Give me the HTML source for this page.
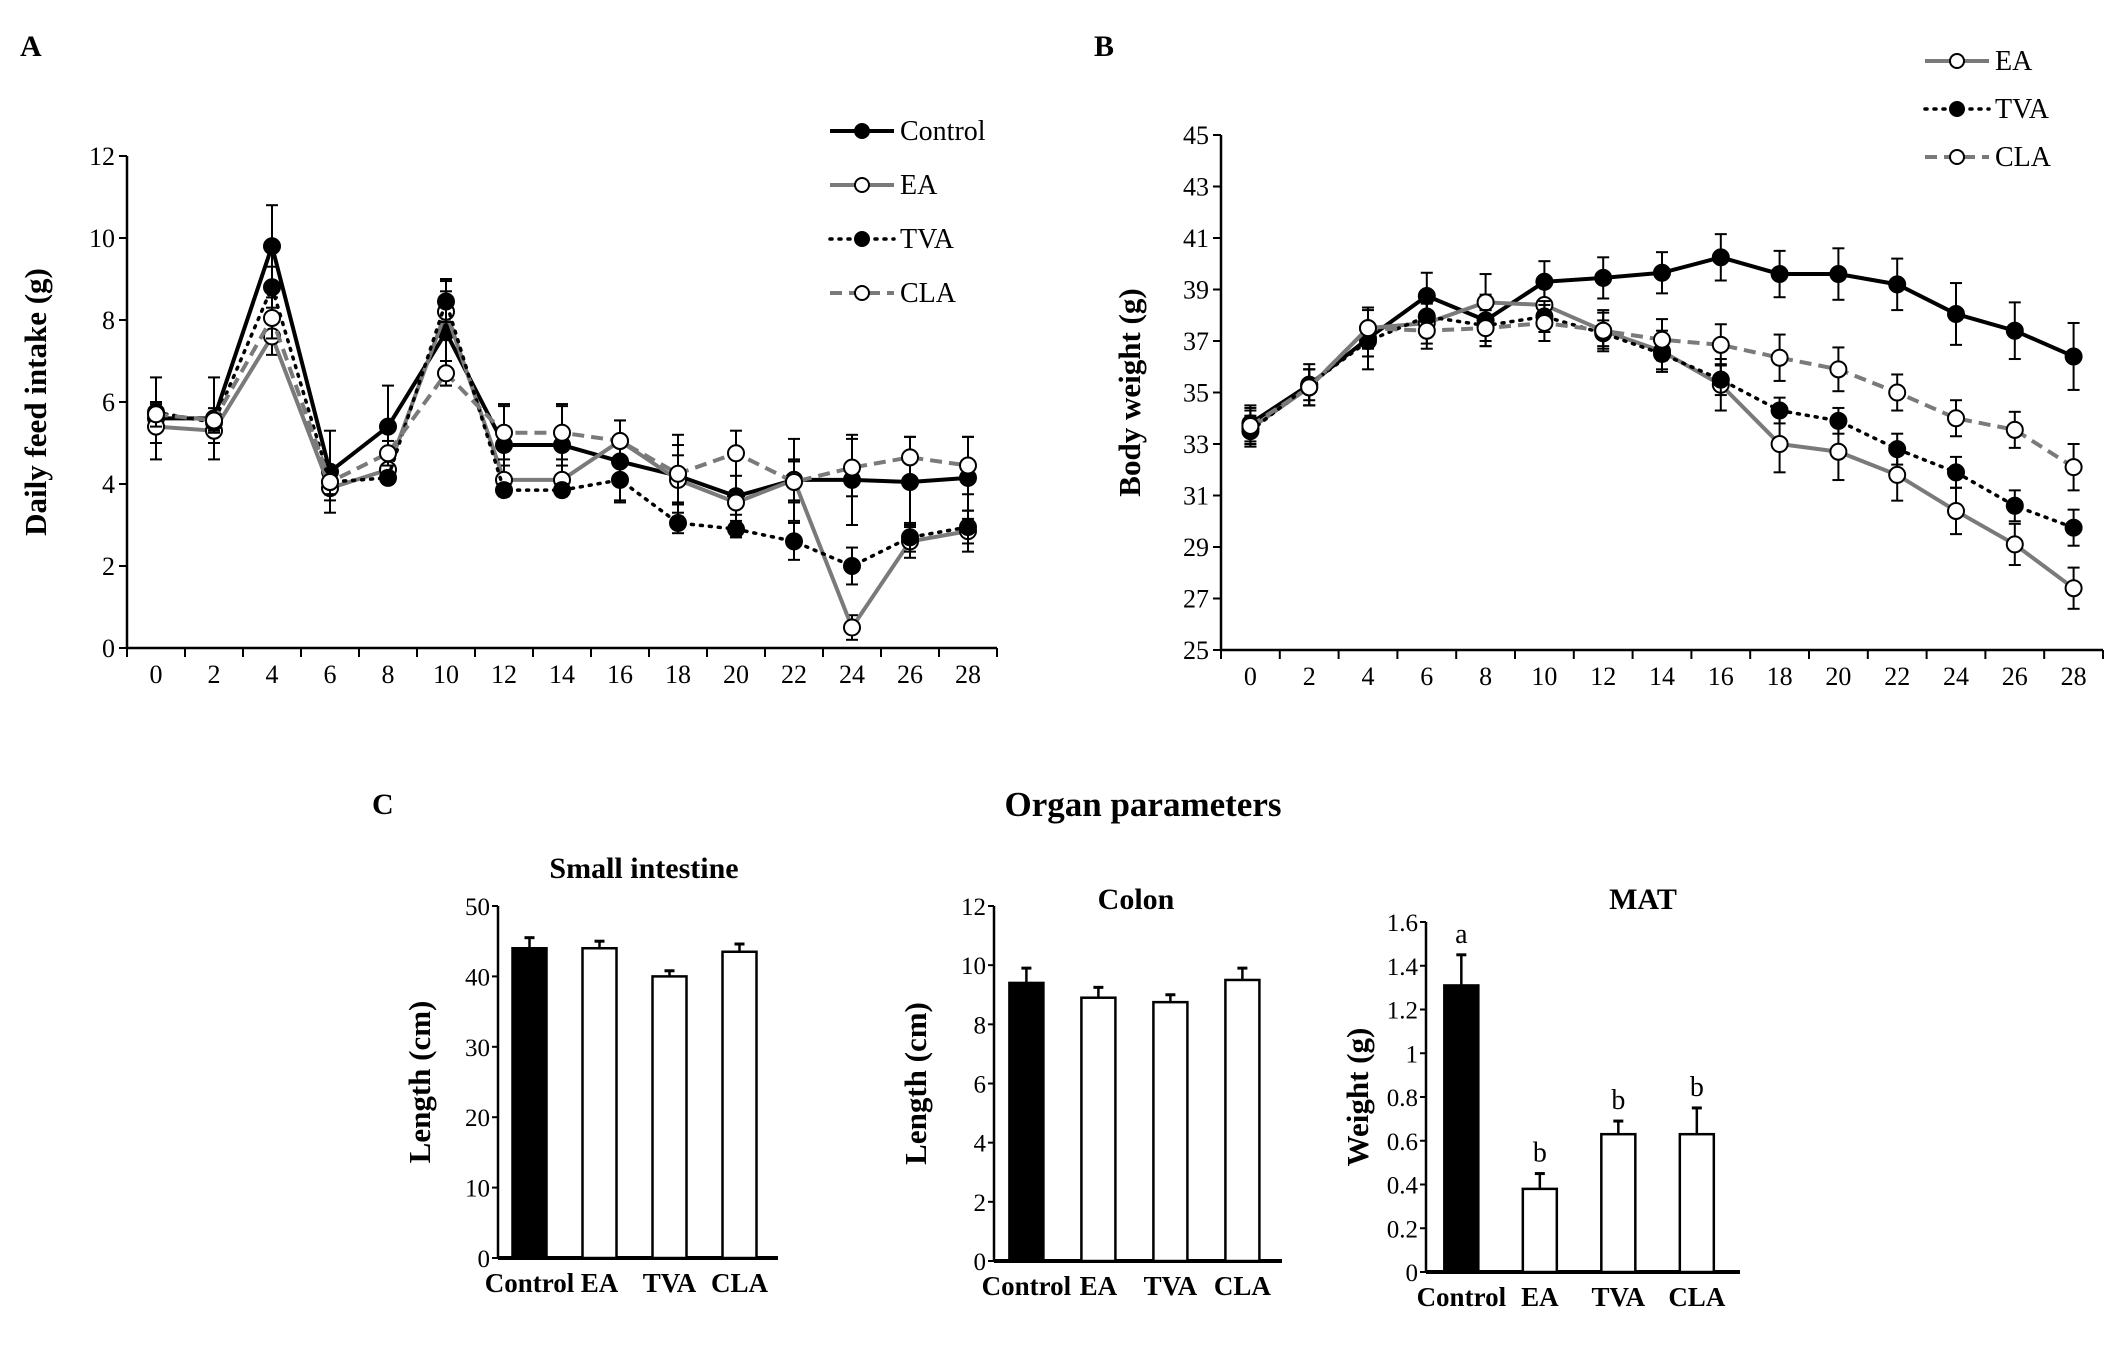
<!DOCTYPE html>
<html><head><meta charset="utf-8"><style>
body{margin:0;background:#fff}
svg{display:block;font-family:"Liberation Serif",serif}
</style></head><body>
<svg id="s" width="2126" height="1347" viewBox="0 0 2126 1347">
<text x="20" y="56" font-size="30" font-weight="bold">A</text>
<text x="1094" y="56" font-size="30" font-weight="bold">B</text>
<text x="372" y="814" font-size="30" font-weight="bold">C</text>
<text x="1143" y="816" font-size="35" font-weight="bold" text-anchor="middle">Organ parameters</text>
</svg>
<script>
const days=[0,2,4,6,8,10,12,14,16,18,20,22,24,26,28];
const feedControl=[5.6,5.6,9.8,4.3,5.4,7.7,4.95,4.95,4.55,4.2,3.7,4.1,4.1,4.05,4.15];
const feedEA=[5.4,5.3,7.6,3.9,4.35,8.2,4.1,4.1,5.05,4.1,3.55,4.1,0.5,2.6,2.85];
const feedTVA=[5.75,5.5,8.8,4.05,4.15,8.45,3.85,3.85,4.1,3.05,2.9,2.6,2.0,2.7,2.95];
const feedCLA=[5.7,5.55,8.05,4.05,4.75,6.7,5.25,5.25,5.05,4.25,4.75,4.05,4.4,4.65,4.45];
const feedErrControl=[1.0,1.0,1.0,1.0,1.0,1.3,1.0,1.0,1.0,1.0,1.0,1.0,1.1,1.1,1.0];
const feedErrEA=[0.4,0.3,0.45,0.3,0.3,0.5,0.35,0.35,0.5,0.6,0.3,0.5,0.3,0.4,0.5];
const feedErrTVA=[0.2,0.2,0.5,0.3,0.15,0.5,0.15,0.15,0.5,0.25,0.2,0.45,0.45,0.35,0.4];
const feedErrCLA=[0.3,0.3,0.5,0.3,0.3,0.3,0.65,0.65,0.5,0.7,0.55,0.5,0.7,0.5,0.7];
const feedTicks=[0,2,4,6,8,10,12];
const bwControl=[33.8,35.3,37.1,38.75,37.8,39.3,39.45,39.65,40.25,39.6,39.6,39.2,38.05,37.4,36.4];
const bwEA=[33.6,35.2,37.5,37.7,38.5,38.4,37.4,36.6,35.3,33.0,32.7,31.8,30.4,29.1,27.4];
const bwTVA=[33.5,35.3,37.0,37.95,37.6,37.95,37.3,36.5,35.5,34.3,33.9,32.8,31.9,30.6,29.75];
const bwCLA=[33.7,35.2,37.5,37.4,37.5,37.7,37.4,37.05,36.85,36.35,35.9,35.0,34.0,33.55,32.1];
const bwErrControl=[0.7,0.8,1.2,0.9,1.0,0.8,0.8,0.8,0.9,0.9,1.0,1.0,1.2,1.1,1.3];
const bwErrEA=[0.7,0.7,0.8,0.8,1.1,0.8,0.8,0.8,1.0,1.1,1.1,1.0,0.9,0.8,0.8];
const bwErrTVA=[0.6,0.6,0.6,0.5,0.6,0.6,0.5,0.6,0.6,0.5,0.5,0.6,0.6,0.6,0.7];
const bwErrCLA=[0.7,0.7,0.7,0.7,0.7,0.7,0.7,0.8,0.8,0.9,0.85,0.7,0.7,0.7,0.9];
const bwTicks=[25,27,29,31,33,35,37,39,41,43,45];
const groups=["Control","EA","TVA","CLA"];
const siVals=[44,44,40,43.5], siErr=[1.5,1.0,0.8,1.1], siTicks=[0,10,20,30,40,50];
const colonVals=[9.4,8.9,8.75,9.5], colonErr=[0.5,0.35,0.25,0.4], colonTicks=[0,2,4,6,8,10,12];
const matVals=[1.31,0.38,0.63,0.63], matErr=[0.14,0.07,0.06,0.12], matTicks=[0,0.2,0.4,0.6,0.8,1,1.2,1.4,1.6], matLetters=["a","b","b","b"];

const S=document.getElementById('s'),NS='http://www.w3.org/2000/svg';
function mk(tag,at,parent,txt){const e=document.createElementNS(NS,tag);for(const k in at)e.setAttribute(k,at[k]);if(txt!==undefined)e.textContent=txt;(parent||S).appendChild(e);return e;}
function grp(name){const g=mk('g',{});


return g;}

const styles={
 Control:{stroke:'#000',dash:'',fill:'#000',w:4},
 EA:{stroke:'#7a7a7a',dash:'',fill:'#fff',w:4},
 TVA:{stroke:'#000',dash:'2 7',fill:'#000',w:3.5,cap:'round'},
 CLA:{stroke:'#7a7a7a',dash:'12 7',fill:'#fff',w:4}
};

function lineChart(o){
 const g=grp(o.name);
 const yS=v=>o.y0+(v-o.vmin)*(o.y1-o.y0)/(o.vmax-o.vmin);
 const cw=(o.axEnd-o.ax)/days.length;
 const xS=i=>o.ax+cw*(i+0.5);
 mk('line',{x1:o.ax,y1:yS(o.vmax),x2:o.ax,y2:o.y0,stroke:'#000','stroke-width':2.5},g);
 mk('line',{x1:o.ax,y1:o.y0,x2:o.axEnd,y2:o.y0,stroke:'#000','stroke-width':2.5},g);
 o.ticks.forEach(t=>{mk('line',{x1:o.ax-8,y1:yS(t),x2:o.ax,y2:yS(t),stroke:'#000','stroke-width':2},g);
  const tl=mk('text',{x:o.ax-12,y:yS(t)+9,'font-size':26,'text-anchor':'end'},g,String(t));
  
  });
 for(let i=0;i<=days.length;i++)mk('line',{x1:o.ax+cw*i,y1:o.y0,x2:o.ax+cw*i,y2:o.y0+9,stroke:'#000','stroke-width':2},g);
 days.forEach((d,i)=>{const tl=mk('text',{x:xS(i),y:o.y0+35,'font-size':26,'text-anchor':'middle'},g,String(d));
  
  });
 const yt=mk('text',{transform:`translate(${o.titleX},${(yS(o.vmax)+o.y0)/2}) rotate(-90)`,'font-size':31,'font-weight':'bold','text-anchor':'middle'},g,o.title);
 
 
 o.series.forEach(s=>{
  const st=styles[s.key];const sg=mk('g',{},g);
  
  
  s.vals.forEach((v,i)=>{const x=xS(i),e=s.err[i];
   mk('line',{x1:x,y1:yS(v-e),x2:x,y2:yS(v+e),stroke:'#000','stroke-width':2},sg);
   [v-e,v+e].forEach(w=>mk('line',{x1:x-6,y1:yS(w),x2:x+6,y2:yS(w),stroke:'#000','stroke-width':2},sg));});
  mk('polyline',{points:s.vals.map((v,i)=>xS(i)+','+yS(v)).join(' '),fill:'none',stroke:st.stroke,'stroke-width':st.w,'stroke-dasharray':st.dash,'stroke-linecap':st.cap||'butt'},sg);
  s.vals.forEach((v,i)=>{const c=mk('circle',{cx:xS(i),cy:yS(v),r:8,fill:st.fill,stroke:'#000','stroke-width':2},sg);
   
   });
 });
 o.legend.forEach((k,j)=>{const st=styles[k],y=o.legY+j*o.legStep;const lg=mk('g',{},g);
  
  
  mk('line',{x1:o.legX,y1:y,x2:o.legX+64,y2:y,stroke:st.stroke,'stroke-width':st.w,'stroke-dasharray':st.dash,'stroke-linecap':st.cap||'butt'},lg);
  mk('circle',{cx:o.legX+32,cy:y,r:7,fill:st.fill,stroke:'#000','stroke-width':2},lg);
  mk('text',{x:o.legX+70,y:y+9,'font-size':28},lg,k);});
}
lineChart({name:'chart-feed-intake',ax:127,axEnd:997,y0:648,vmin:0,y1:156,vmax:12,ticks:feedTicks,title:'Daily feed intake (g)',titleX:46,
 series:[{key:'Control',vals:feedControl,err:feedErrControl},{key:'EA',vals:feedEA,err:feedErrEA},{key:'TVA',vals:feedTVA,err:feedErrTVA},{key:'CLA',vals:feedCLA,err:feedErrCLA}],
 legend:['Control','EA','TVA','CLA'],legX:830,legY:131,legStep:54});
lineChart({name:'chart-body-weight',ax:1221,axEnd:2103,y0:650,vmin:25,y1:135,vmax:45,ticks:bwTicks,title:'Body weight (g)',titleX:1140,
 series:[{key:'Control',vals:bwControl,err:bwErrControl},{key:'EA',vals:bwEA,err:bwErrEA},{key:'TVA',vals:bwTVA,err:bwErrTVA},{key:'CLA',vals:bwCLA,err:bwErrCLA}],
 legend:['EA','TVA','CLA'],legX:1925,legY:61,legStep:48});

function barChart(o){
 const g=grp(o.name);
 const yS=v=>o.y0+v*(o.y1-o.y0)/o.vmax;
 mk('line',{x1:o.ax,y1:o.y1,x2:o.ax,y2:o.y0,stroke:'#000','stroke-width':2.5},g);
 mk('line',{x1:o.ax,y1:o.y0,x2:o.axEnd,y2:o.y0,stroke:'#000','stroke-width':4},g);
 o.ticks.forEach(t=>{mk('line',{x1:o.ax-6,y1:yS(t),x2:o.ax,y2:yS(t),stroke:'#000','stroke-width':2},g);
  const tl=mk('text',{x:o.ax-8,y:yS(t)+9,'font-size':25,'text-anchor':'end'},g,String(t));
  
  });
 const step=(o.axEnd-o.ax)/4;
 o.vals.forEach((v,i)=>{const cx=o.ax+step*(i+0.45),w=34;
  mk('line',{x1:cx,y1:yS(v),x2:cx,y2:yS(v+o.err[i]),stroke:'#000','stroke-width':2.5},g);
  mk('line',{x1:cx-5,y1:yS(v+o.err[i]),x2:cx+5,y2:yS(v+o.err[i]),stroke:'#000','stroke-width':3},g);
  const b=mk('rect',{x:cx-w/2,y:yS(v),width:w,height:o.y0-yS(v),fill:i==0?'#000':'#fff',stroke:'#000','stroke-width':2.5},g);
  
  
  const tl=mk('text',{x:cx,y:o.y0+34,'font-size':27,'font-weight':'bold','text-anchor':'middle'},g,groups[i]);
  
  
  if(o.letters){mk('text',{x:cx,y:yS(v+o.err[i])-12,'font-size':28,'text-anchor':'middle'},g,o.letters[i]);}
 });
 const t=mk('text',{x:o.titleCx,y:o.titleY,'font-size':30,'font-weight':'bold','text-anchor':'middle'},g,o.title);
 
 
 const yt=mk('text',{transform:`translate(${o.ytX},${(o.y0+o.y1)/2}) rotate(-90)`,'font-size':31,'font-weight':'bold','text-anchor':'middle'},g,o.ytitle);
 
 
}
barChart({name:'chart-small-intestine',ax:498,axEnd:778,y0:1258,y1:906,vmax:50,ticks:siTicks,vals:siVals,err:siErr,title:'Small intestine',titleCx:644,titleY:878,ytitle:'Length (cm)',ytX:430});
barChart({name:'chart-colon',ax:994,axEnd:1282,y0:1261,y1:906,vmax:12,ticks:colonTicks,vals:colonVals,err:colonErr,title:'Colon',titleCx:1136,titleY:909,ytitle:'Length (cm)',ytX:926});
barChart({name:'chart-mat',ax:1426,axEnd:1740,y0:1272,y1:922,vmax:1.6,ticks:matTicks,vals:matVals,err:matErr,letters:matLetters,title:'MAT',titleCx:1643,titleY:909,ytitle:'Weight (g)',ytX:1368});
</script>
</body></html>
